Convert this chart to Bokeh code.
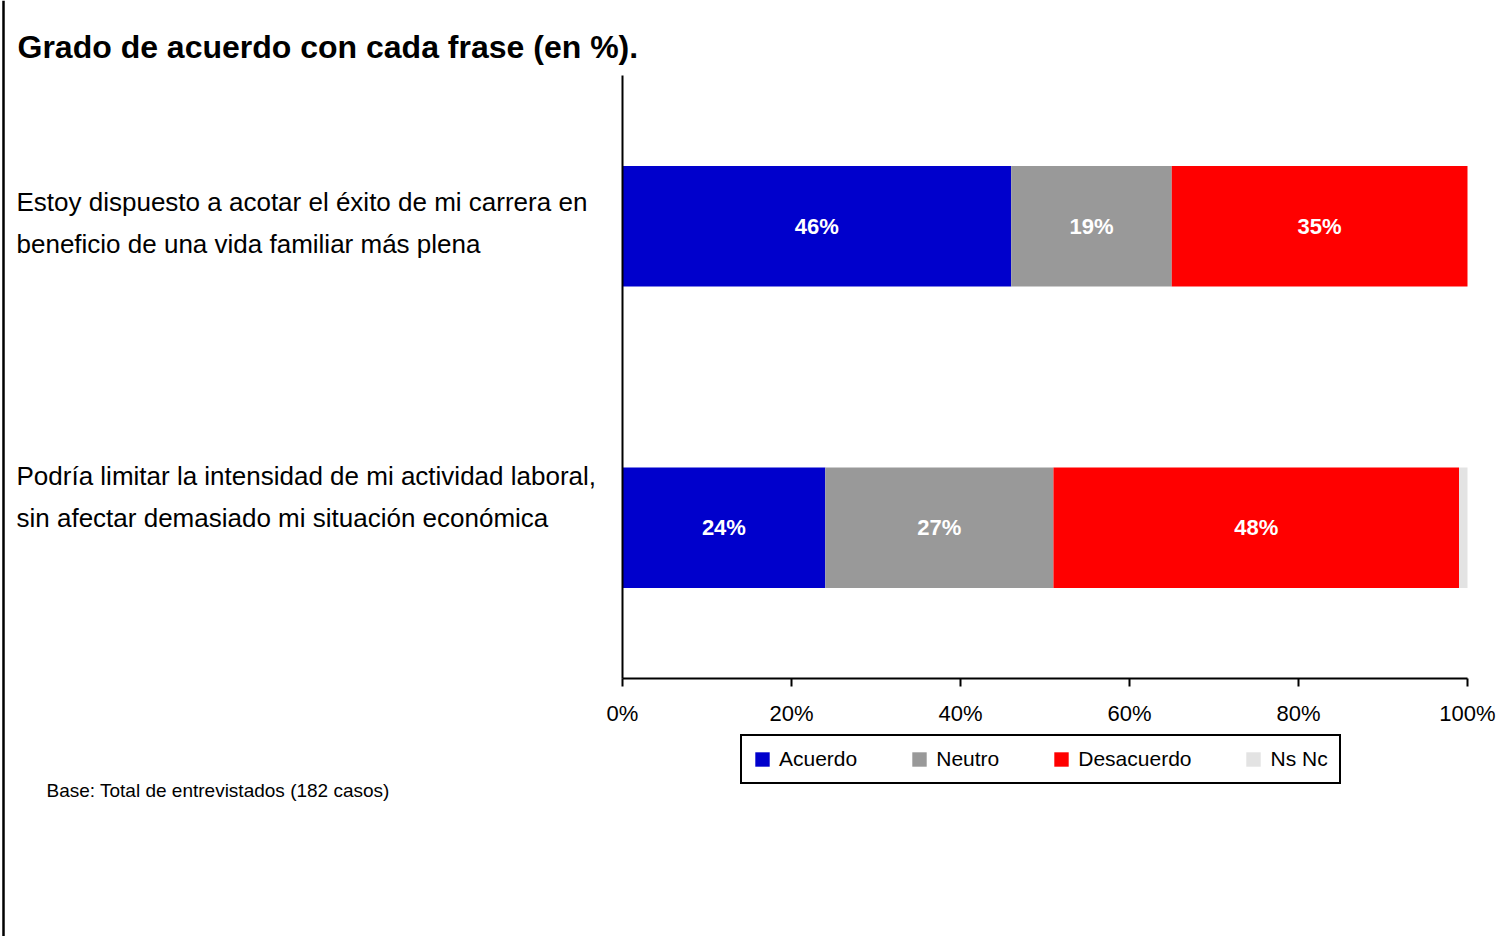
from bokeh.plotting import figure
from bokeh.models import (ColumnDataSource, Range1d, FixedTicker, LinearAxis, Span,
                          PrintfTickFormatter, Legend, LegendItem, Label)
from bokeh.core.properties import value
from bokeh.embed import file_html
from bokeh.resources import INLINE

# ---------------- data ----------------
title_text = "Grado de acuerdo con cada frase  (en %)."
categories = [
    "Estoy dispuesto a acotar el éxito de mi carrera en\nbeneficio de una vida familiar más plena",
    "Podría limitar la intensidad de mi actividad laboral,\nsin afectar demasiado mi situación económica",
]
series = ["Acuerdo", "Neutro", "Desacuerdo", "Ns Nc"]
acuerdo = [46, 24]
neutro = [19, 27]
desacuerdo = [35, 48]
ns_nc = [0, 1]
x_ticks = [0, 20, 40, 60, 80, 100]
note_text = "Base: Total de entrevistados (182 casos)"

# ---------------- style / layout ----------------
colors = ["#0000CC", "#999999", "#FF0000", "#E3E3E3"]
SANS = "Liberation Sans"

W, H = 1496, 936
PX0, PY0 = 0, 0                       # canvas origin in page px
FL, FR, FT, FB = 622, 1467, 75, 678   # plot-area edges in page px

def sx(px):            # page x -> canvas screen x
    return px - PX0

def sy(py):            # page y -> canvas screen y (measured from bottom)
    return H - (py - PY0)

# data 0..100 spans FL..FR ; data 0..1 spans FB..FT (frame = whole canvas)
xscale = (FR - FL) / 100.0
yscale = (FB - FT) / 1.0
x_start = -sx(FL) / xscale
x_end = (W - sx(FL)) / xscale
y_start = -sy(FB) / yscale
y_end = (H - sy(FB)) / yscale

p = figure(width=W, height=H, output_backend="svg", toolbar_location=None,
           x_range=Range1d(x_start, x_end), y_range=Range1d(y_start, y_end),
           x_axis_type=None, y_axis_type=None, min_border=0)
p.outline_line_color = None
p.background_fill_color = "white"
p.border_fill_color = "white"

n = len(categories)
ypos = [(n - i - 0.5) / n for i in range(n)]

keys = ["acuerdo", "neutro", "desacuerdo", "ns_nc"]
src = ColumnDataSource(dict(y=ypos, acuerdo=acuerdo, neutro=neutro,
                            desacuerdo=desacuerdo, ns_nc=ns_nc))
rs = p.hbar_stack(keys, y="y", height=0.2, color=colors, line_color=None, source=src)

# value labels (centred on each segment)
vals = [acuerdo, neutro, desacuerdo]
lx, ly, lt = [], [], []
for i in range(n):
    left = 0
    for v in vals:
        vv = v[i]
        lx.append(left + vv / 2)
        ly.append(ypos[i])
        lt.append(f"{vv}%")
        left += vv
p.text(x=lx, y=ly, text=lt, text_color="white", text_font=value(SANS),
       text_font_style="bold", text_font_size="22px", text_align="center",
       text_baseline="middle")

# axes (fixed inside the full-canvas frame)
xa = LinearAxis(fixed_location=0, bounds=(0, 100))
xa.ticker = FixedTicker(ticks=x_ticks)
xa.formatter = PrintfTickFormatter(format="%d%%")
xa.axis_line_width = 2
xa.axis_line_color = "black"
xa.major_tick_line_width = 2
xa.major_tick_in = 0
xa.major_tick_out = 8
xa.minor_tick_line_color = None
xa.major_label_text_font = SANS
xa.major_label_text_font_size = "22px"
xa.major_label_text_color = "black"
xa.major_label_standoff = 14
p.add_layout(xa, "below")

ya = LinearAxis(fixed_location=0, bounds=(0, 1))
ya.ticker = FixedTicker(ticks=[])
ya.axis_line_width = 2
ya.axis_line_color = "black"
ya.major_tick_line_color = None
ya.minor_tick_line_color = None
p.add_layout(ya, "left")

# page border line on the left
p.add_layout(Span(location=3, location_units="screen", dimension="height",
                  line_color="black", line_width=2.5))

# category labels
offsets = [3, 31]
for yv, cat, off in zip(ypos, categories, offsets):
    p.add_layout(Label(x=sx(16), x_units="screen", y=yv, y_units="data",
                       y_offset=off, text=cat, text_align="left",
                       text_baseline="middle", text_font=SANS,
                       text_font_size="26px", text_color="black",
                       text_line_height=1.4))

# title
p.add_layout(Label(x=sx(17), y=sy(46), x_units="screen", y_units="screen",
                   text=title_text, text_font=SANS, text_font_style="bold",
                   text_font_size="32px", text_color="black",
                   text_align="left", text_baseline="middle"))

# note
p.add_layout(Label(x=sx(46), y=sy(790), x_units="screen", y_units="screen",
                   text=note_text, text_font=SANS, text_font_size="19px",
                   text_color="black", text_align="left", text_baseline="middle"))

# legend
legend = Legend(items=[LegendItem(label=s, renderers=[r]) for s, r in zip(series, rs)],
                orientation="horizontal", location=(sx(740), sy(784)),
                glyph_width=18, glyph_height=18, label_standoff=8, spacing=53,
                padding=11, margin=0, border_line_color="black", border_line_width=2,
                border_line_alpha=1.0,
                background_fill_color="white", background_fill_alpha=1.0,
                label_text_font=SANS, label_text_font_size="21px",
                label_text_color="black")
p.add_layout(legend, "center")

open("out.html", "w").write(file_html(p, INLINE))
